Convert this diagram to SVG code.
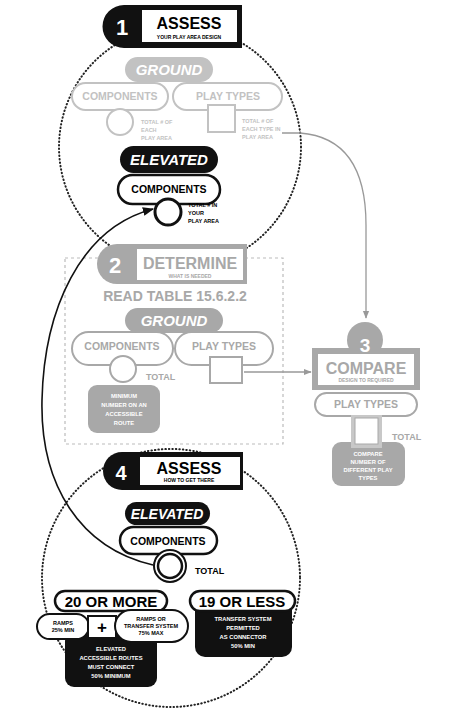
<svg xmlns="http://www.w3.org/2000/svg" width="451" height="727" viewBox="0 0 451 727">
<style>
  text { font-family: "Liberation Sans", Arial, sans-serif; font-weight: bold; text-anchor: middle; }
  .dot { fill: none; stroke: #222; stroke-width: 2; stroke-dasharray: 0.5 3; stroke-linecap: round; }
  .hd { font-size: 16px; }
  .sub { font-size: 5px; }
  .num { font-size: 22px; fill: #fff; }
  .pillT { font-size: 15px; font-style: italic; fill: #fff; }
  .cmp { font-size: 10.5px; }
  .tiny { font-size: 5.5px; text-anchor: start; }
  .wt { font-size: 5.8px; fill: #fff; }
  .g1 { fill: #c2c2c2; }
  .g2 { fill: #a8a8a8; }
</style>
<defs>
  <marker id="ab" viewBox="0 0 10 10" refX="9" refY="5" markerWidth="7" markerHeight="7" orient="auto">
    <path d="M0,1 L10,5 L0,9 z" fill="#111"/>
  </marker>
  <marker id="ag" viewBox="0 0 10 10" refX="9" refY="5" markerWidth="6" markerHeight="6" orient="auto">
    <path d="M0,1 L10,5 L0,9 z" fill="#999"/>
  </marker>
</defs>
<rect width="451" height="727" fill="#fff"/>

<!-- dotted circles -->
<circle class="dot" cx="180" cy="147" r="121"/>
<circle class="dot" cx="171" cy="578" r="129"/>

<!-- step 2 dashed frame -->
<rect x="65" y="258" width="218" height="186" fill="none" stroke="#bbb" stroke-width="1.2" stroke-dasharray="3 3"/>

<!-- connectors -->
<g id="connectors">
  <path d="M282,133 L300,133 Q366,138 366,225 L366,318" fill="none" stroke="#999" stroke-width="1.3" marker-end="url(#ag)"/>
  <path d="M244,372 L311,372" fill="none" stroke="#999" stroke-width="1.3" marker-end="url(#ag)"/>
  <path d="M153,565 C80,548 40,485 42,400 C44,310 80,228 153,209" fill="none" stroke="#111" stroke-width="1.6" marker-end="url(#ab)"/>
</g>

<!-- STEP 1 -->
<g id="label1">
  <path d="M124,5 L242,5 L242,48 L124,48 A21.5,21.5 0 0 1 124,5 z" fill="#111"/>
  <rect x="142" y="10" width="95" height="32" fill="#fff"/>
  <text class="num" x="122" y="35">1</text>
  <text class="hd" x="189" y="29">ASSESS</text>
  <text class="sub" x="189" y="38.5">YOUR PLAY AREA DESIGN</text>
</g>
<g id="ground1">
  <rect x="72" y="83" width="96" height="27" rx="13.5" fill="#fff" stroke="#c2c2c2" stroke-width="2"/>
  <rect x="173" y="83" width="109" height="27" rx="13.5" fill="#fff" stroke="#c2c2c2" stroke-width="2"/>
  <rect x="125" y="57" width="88" height="25" rx="12.5" class="g1"/>
  <text class="pillT" x="169" y="75">GROUND</text>
  <text class="cmp g1" x="120" y="100">COMPONENTS</text>
  <text class="cmp g1" x="228" y="100">PLAY TYPES</text>
  <circle cx="120" cy="122" r="13" fill="#fff" stroke="#c2c2c2" stroke-width="2"/>
  <rect x="208" y="105" width="27" height="27" fill="#fff" stroke="#c2c2c2" stroke-width="2"/>
  <text class="tiny g1" x="141" y="124">TOTAL # OF</text>
  <text class="tiny g1" x="141" y="132">EACH</text>
  <text class="tiny g1" x="141" y="140">PLAY AREA</text>
  <text class="tiny g1" x="242" y="123">TOTAL # OF</text>
  <text class="tiny g1" x="242" y="131">EACH TYPE IN</text>
  <text class="tiny g1" x="242" y="139">PLAY AREA</text>
</g>
<g id="elevated1">
  <rect x="120" y="146" width="98" height="27" rx="13.5" fill="#111"/>
  <text class="pillT" x="169" y="165">ELEVATED</text>
  <rect x="118" y="175" width="102" height="29" rx="14.5" fill="#fff" stroke="#111" stroke-width="2.5"/>
  <text class="cmp" x="169" y="193">COMPONENTS</text>
  <circle cx="168" cy="212" r="13" fill="#fff" stroke="#111" stroke-width="3"/>
  <text class="tiny" x="188" y="207">TOTAL # IN</text>
  <text class="tiny" x="188" y="215">YOUR</text>
  <text class="tiny" x="188" y="223">PLAY AREA</text>
</g>

<!-- STEP 2 -->
<g id="label2">
  <path d="M117,244 L247,244 L247,284 L117,284 A20,20 0 0 1 117,244 z" fill="#a8a8a8"/>
  <rect x="137" y="249" width="106" height="31" fill="#fff"/>
  <text class="num" x="115" y="273">2</text>
  <text class="hd g2" x="190" y="269">DETERMINE</text>
  <text class="sub g2" x="190" y="277.5">WHAT IS NEEDED</text>
</g>
<g id="read2">
  <text class="g2" x="175" y="301" style="font-size:14px">READ TABLE 15.6.2.2</text>
</g>
<g id="ground2">
  <rect x="72" y="332" width="101" height="33" rx="16.5" fill="#fff" stroke="#a8a8a8" stroke-width="2"/>
  <rect x="175" y="332" width="98" height="33" rx="16.5" fill="#fff" stroke="#a8a8a8" stroke-width="2"/>
  <rect x="125" y="308" width="98" height="25" rx="12.5" class="g2"/>
  <text class="pillT" x="174" y="326">GROUND</text>
  <text class="cmp g2" x="122" y="350">COMPONENTS</text>
  <text class="cmp g2" x="224" y="350">PLAY TYPES</text>
  <circle cx="123" cy="369" r="13" fill="#fff" stroke="#a8a8a8" stroke-width="2"/>
  <text class="g2" x="146" y="380" style="font-size:9px;text-anchor:start">TOTAL</text>
  <rect x="210" y="357" width="32" height="26" fill="#fff" stroke="#a8a8a8" stroke-width="2"/>
  <rect x="88" y="385" width="72" height="48" rx="9" class="g2"/>
  <text class="wt" x="124" y="398">MINIMUM</text>
  <text class="wt" x="124" y="407">NUMBER ON AN</text>
  <text class="wt" x="124" y="416">ACCESSIBLE</text>
  <text class="wt" x="124" y="425">ROUTE</text>
</g>

<!-- STEP 3 -->
<g id="label3">
  <circle cx="365" cy="340" r="18" class="g2"/>
  <rect x="312" y="348" width="108" height="42" class="g2"/>
  <rect x="318" y="354" width="96" height="31" fill="#fff"/>
  <text class="num" x="365" y="352" style="font-size:19px">3</text>
  <text class="hd g2" x="366" y="374">COMPARE</text>
  <text class="sub g2" x="366" y="382">DESIGN TO REQUIRED</text>
</g>
<g id="compare3">
  <rect x="315" y="393" width="102" height="23" rx="11.5" fill="#fff" stroke="#a8a8a8" stroke-width="2"/>
  <text class="cmp g2" x="366" y="408">PLAY TYPES</text>
  <rect x="332" y="442" width="73" height="44" rx="9" class="g2"/>
  <rect x="351" y="415" width="31" height="33" fill="#c8c8c8"/>
  <rect x="355" y="418" width="23" height="26" fill="#fff" stroke="#a8a8a8" stroke-width="1"/>
  <text class="g2" x="392" y="440" style="font-size:9px;text-anchor:start">TOTAL</text>
  <text class="wt" x="368" y="456">COMPARE</text>
  <text class="wt" x="368" y="464">NUMBER OF</text>
  <text class="wt" x="368" y="472">DIFFERENT PLAY</text>
  <text class="wt" x="368" y="480">TYPES</text>
</g>

<!-- STEP 4 -->
<g id="label4">
  <path d="M122,452 L243,452 L243,490 L122,490 A19,19 0 0 1 122,452 z" fill="#111"/>
  <rect x="140" y="457" width="100" height="28" fill="#fff"/>
  <text class="num" x="121" y="480" style="font-size:20px">4</text>
  <text class="hd" x="189" y="474">ASSESS</text>
  <text class="sub" x="189" y="482">HOW TO GET THERE</text>
</g>
<g id="elevated4">
  <rect x="125" y="502" width="85" height="23" rx="11.5" fill="#111"/>
  <text class="pillT" x="167" y="519" style="font-size:14px">ELEVATED</text>
  <rect x="120" y="527" width="97" height="27" rx="13.5" fill="#fff" stroke="#111" stroke-width="2.5"/>
  <text class="cmp" x="168" y="545">COMPONENTS</text>
  <circle cx="170" cy="566" r="16" fill="#fff" stroke="#111" stroke-width="2"/>
  <circle cx="170" cy="566" r="12" fill="#fff" stroke="#111" stroke-width="2.5"/>
  <text x="195" y="574" style="font-size:9px;text-anchor:start">TOTAL</text>
</g>
<g id="more20">
  <rect x="65" y="632" width="92" height="55" rx="9" fill="#111"/>
  <rect x="55" y="591" width="112" height="20" rx="10" fill="#fff" stroke="#111" stroke-width="2.5"/>
  <text x="111" y="607" style="font-size:15px">20 OR MORE</text>
  <rect x="37" y="614" width="52" height="25" rx="12.5" fill="#fff" stroke="#111" stroke-width="2"/>
  <text x="63" y="625" style="font-size:5.5px">RAMPS</text>
  <text x="63" y="632" style="font-size:5.5px">25% MIN</text>
  <rect x="88" y="616" width="28" height="22" fill="#fff" stroke="#111" stroke-width="2"/>
  <text x="102" y="633" style="font-size:17px">+</text>
  <rect x="115" y="610" width="73" height="32" rx="16" fill="#fff" stroke="#111" stroke-width="2"/>
  <text x="151" y="621" style="font-size:5.5px">RAMPS OR</text>
  <text x="151" y="628" style="font-size:5.5px">TRANSFER SYSTEM</text>
  <text x="151" y="635" style="font-size:5.5px">75% MAX</text>
  <text class="wt" x="111" y="651">ELEVATED</text>
  <text class="wt" x="111" y="660">ACCESSIBLE ROUTES</text>
  <text class="wt" x="111" y="669">MUST CONNECT</text>
  <text class="wt" x="111" y="678">50% MINIMUM</text>
</g>
<g id="less19">
  <rect x="195" y="600" width="97" height="57" rx="10" fill="#111"/>
  <rect x="190" y="591" width="105" height="20" rx="10" fill="#fff" stroke="#111" stroke-width="2.5"/>
  <text x="242" y="607" style="font-size:15px">19 OR LESS</text>
  <text class="wt" x="243" y="621">TRANSFER SYSTEM</text>
  <text class="wt" x="243" y="630">PERMITTED</text>
  <text class="wt" x="243" y="639">AS CONNECTOR</text>
  <text class="wt" x="243" y="648">50% MIN</text>
</g>
</svg>
